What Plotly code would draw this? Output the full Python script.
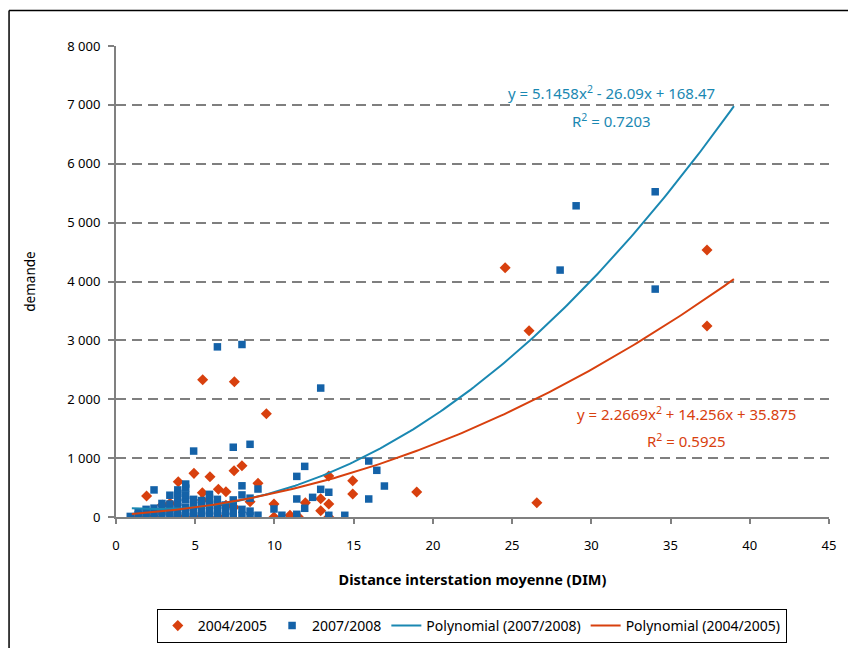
import numpy as np
import plotly.graph_objects as go

# ---- data ----
x_0405 = [1.4, 1.93, 2.4, 2.92, 3.41, 3.93, 3.93, 4.92, 4.92, 5.45, 5.45, 5.47,
          5.93, 6.46, 6.46, 6.94, 6.94, 7.45, 7.45, 7.47, 7.95, 8.46, 8.96, 9.49,
          9.97, 9.97, 10.98, 11.5, 11.95, 12.92, 12.92, 13.43, 13.43, 13.43,
          14.94, 14.94, 18.98, 24.56, 26.07, 26.56, 37.3, 37.3]
y_0405 = [0, 356, 0, 204, 232, 600, 0, 741, 0, 413, 289, 2331,
          684, 470, 0, 430, 200, 786, 164, 2298, 871, 260, 572, 1754,
          221, 0, 29, 5, 243, 311, 107, 221, 696, 0,
          617, 390, 424, 4233, 3164, 243, 4534, 3243]

x_0708 = [0.9, 1.4, 1.4, 1.9, 1.9, 1.9, 2.4, 2.4, 2.4, 2.4,
          2.9, 2.9, 2.9, 2.9, 3.4, 3.4, 3.4, 3.4, 3.4,
          3.9, 3.9, 3.9, 3.9, 3.9, 3.9, 3.9,
          4.4, 4.4, 4.4, 4.4, 4.4, 4.4, 4.4,
          4.9, 4.9, 4.9, 4.9, 4.9, 5.4, 5.4, 5.4, 5.4,
          5.9, 5.9, 5.9, 5.9, 5.9, 6.4, 6.4, 6.4, 6.4, 6.4,
          6.9, 6.9, 6.9, 7.4, 7.4, 7.4, 7.4, 7.4,
          7.95, 7.95, 7.95, 7.95, 7.95, 8.46, 8.46, 8.46, 8.46,
          8.96, 8.96, 9.97, 10.47, 11.41, 11.41, 11.41, 11.91, 11.91,
          12.41, 12.92, 12.92, 13.43, 13.43, 14.44, 15.95, 15.95, 16.46, 16.94,
          28.03, 29.04, 34.03, 34.03]
y_0708 = [10, 40, 90, 20, 80, 130, 20, 80, 150, 460,
          20, 90, 160, 230, 10, 70, 140, 220, 370,
          20, 90, 170, 250, 330, 400, 460,
          10, 80, 160, 290, 370, 490, 560,
          20, 100, 200, 300, 1120, 10, 90, 200, 280,
          30, 120, 230, 320, 385, 10, 100, 200, 300, 2890,
          20, 110, 204, 10, 100, 180, 290, 1185,
          30, 130, 375, 530, 2930, 20, 100, 320, 1235,
          30, 475, 136, 30, 46, 306, 690, 148, 860,
          334, 470, 2190, 29, 420, 29, 306, 951, 793, 526,
          4194, 5286, 5524, 3871]

# trendline coefficients shown on the chart (a, b, c) for y = a x^2 + b x + c
coef_0708 = [5.1458, -26.09, 168.47]
coef_0405 = [2.2669, 14.256, 35.875]
trend_range = [1, 39]

x_ticks = [0, 5, 10, 15, 20, 25, 30, 35, 40, 45]
y_ticks = [0, 1000, 2000, 3000, 4000, 5000, 6000, 7000, 8000]
y_tick_labels = ["0", "1 000", "2 000", "3 000", "4 000", "5 000", "6 000", "7 000", "8 000"]

RED = "#D8400E"
BLUE_M = "#1462A8"
BLUE_L = "#1A88B2"
FONT = "Noto Sans"

xt = np.linspace(trend_range[0], trend_range[1], 200)
yt_0708 = np.polyval(coef_0708, xt)
yt_0405 = np.polyval(coef_0405, xt)

fig = go.Figure()
fig.add_trace(go.Scatter(x=x_0405, y=y_0405, mode="markers", name="2004/2005",
                         marker=dict(symbol="diamond", size=8.5, color=RED)))
fig.add_trace(go.Scatter(x=x_0708, y=y_0708, mode="markers", name="2007/2008",
                         marker=dict(symbol="square", size=7.5, color=BLUE_M)))
fig.add_trace(go.Scatter(x=xt, y=yt_0708, mode="lines", name="Polynomial (2007/2008)",
                         line=dict(color=BLUE_L, width=2)))
fig.add_trace(go.Scatter(x=xt, y=yt_0405, mode="lines", name="Polynomial (2004/2005)",
                         line=dict(color=RED, width=2)))

EQ_SIZE = 15
fig.add_annotation(x=31.3, y=7210, xref="x", yref="y", showarrow=False,
                   text="y = 5.1458x<sup>2</sup> - 26.09x + 168.47",
                   font=dict(family=FONT, size=EQ_SIZE, color=BLUE_L))
fig.add_annotation(x=31.3, y=6740, xref="x", yref="y", showarrow=False,
                   text="R<sup>2</sup> = 0.7203",
                   font=dict(family=FONT, size=EQ_SIZE, color=BLUE_L))
fig.add_annotation(x=36.0, y=1760, xref="x", yref="y", showarrow=False,
                   text="y = 2.2669x<sup>2</sup> + 14.256x + 35.875",
                   font=dict(family=FONT, size=EQ_SIZE, color=RED))
fig.add_annotation(x=36.0, y=1300, xref="x", yref="y", showarrow=False,
                   text="R<sup>2</sup> = 0.5925",
                   font=dict(family=FONT, size=EQ_SIZE, color=RED))

# outer chart frame (left and top edges visible)
fig.add_shape(type="line", xref="paper", yref="paper", x0=-0.150, x1=-0.150, y0=-0.4, y1=1.0754,
              line=dict(color="black", width=1.5))
fig.add_shape(type="line", xref="paper", yref="paper", x0=-0.150, x1=1.2, y0=1.0754, y1=1.0754,
              line=dict(color="black", width=1.5))

fig.update_xaxes(range=[0, 45], tickvals=x_ticks, showgrid=False, zeroline=False,
                 showline=True, linecolor="#808080", linewidth=2,
                 ticks="outside", ticklen=5, tickcolor="#808080", tickwidth=1.5,
                 ticklabelstandoff=10, automargin=False,
                 tickfont=dict(family=FONT, size=13, color="black"),
                 title=dict(text="Distance interstation moyenne (DIM)",
                            font=dict(family=FONT, size=14.5, color="black", weight="bold"),
                            standoff=22))
fig.update_yaxes(range=[0, 8000], tickvals=y_ticks, ticktext=y_tick_labels,
                 showgrid=True, gridcolor="#7f7f7f", gridwidth=1.5, griddash="10px,6px",
                 zeroline=False, showline=True, linecolor="#808080", linewidth=2,
                 ticks="outside", ticklen=6, tickcolor="#808080", tickwidth=1.5,
                 ticklabelstandoff=5, automargin=False,
                 tickfont=dict(family=FONT, size=13, color="black"),
                 title=dict(text="demande", font=dict(family=FONT, size=13.5, color="black"),
                            standoff=29))

fig.update_layout(width=848, height=648, paper_bgcolor="white", plot_bgcolor="white",
                  margin=dict(l=116, r=19, t=46, b=131, autoexpand=False),
                  font=dict(family=FONT, size=12, color="black"),
                  legend=dict(orientation="h", x=0.499, xanchor="center",
                              yref="container", y=1 - 609 / 648, yanchor="top",
                              bordercolor="black", borderwidth=1,
                              font=dict(family=FONT, size=14, color="black"),
                              itemwidth=30, tracegroupgap=0),
                  showlegend=True)

fig.write_html("out.html")
